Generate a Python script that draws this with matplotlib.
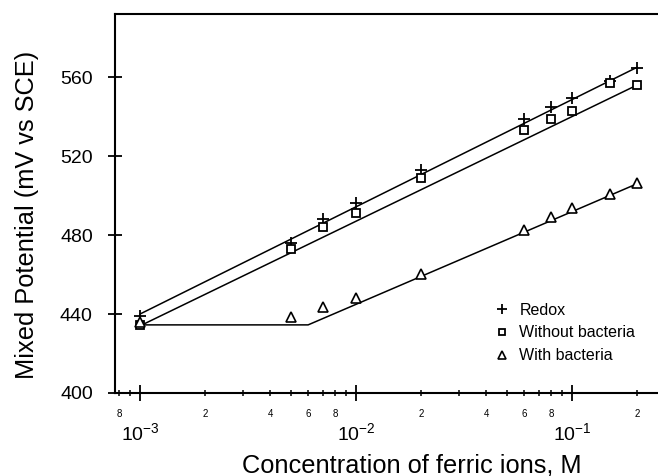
import matplotlib.pyplot as plt
import numpy as np
from matplotlib.ticker import LogLocator, FuncFormatter

plt.rcParams['font.family'] = ['Liberation Sans', 'DejaVu Sans']
plt.rcParams['mathtext.fontset'] = 'custom'
plt.rcParams['mathtext.rm'] = 'Liberation Sans'

# measured points
redox_x = [1e-3, 5e-3, 7e-3, 1e-2, 2e-2, 6e-2, 8e-2, 1e-1, 1.5e-1, 2e-1]
redox_y = [439, 476, 488, 496, 513, 539, 545, 549.5, 558, 564.5]

nobac_x = [1e-3, 5e-3, 7e-3, 1e-2, 2e-2, 6e-2, 8e-2, 1e-1, 1.5e-1, 2e-1]
nobac_y = [434.5, 473, 484, 491, 509, 533, 539, 543, 557, 556]

bac_x = [1e-3, 5e-3, 7e-3, 1e-2, 2e-2, 6e-2, 8e-2, 1e-1, 1.5e-1, 2e-1]
bac_y = [436, 438.5, 443.5, 448, 460.5, 482.5, 489, 493.5, 501, 506.5]

# fitted lines
redox_fit_x = [1e-3, 2e-1]
redox_fit_y = [440, 565]
nobac_fit_x = [1e-3, 2e-1]
nobac_fit_y = [434, 556]
bac_fit_x = [1e-3, 6e-3, 2e-1]
bac_fit_y = [434.5, 434.5, 506]

fig = plt.figure(figsize=(6.58, 4.76), dpi=100)
ax = fig.add_axes([0.1748, 0.1744, 0.8252, 0.7962])

ax.plot(redox_fit_x, redox_fit_y, color='black', lw=1.1)
ax.plot(nobac_fit_x, nobac_fit_y, color='black', lw=1.1)
ax.plot(bac_fit_x, bac_fit_y, color='black', lw=1.1)

ax.plot(redox_x, redox_y, ls='none', marker='+', ms=9, mew=1.3, color='black', label='Redox')
ax.plot(nobac_x, nobac_y, ls='none', marker='s', ms=6, mew=1.3, mfc='white', mec='black', label='Without bacteria')
ax.plot(bac_x, bac_y, ls='none', marker='^', ms=7.5, mew=1.2, mfc='white', mec='black', label='With bacteria')

ax.set_xscale('log')
ax.set_xlim(7.66e-4, 0.25)
ax.set_ylim(400, 592)

ax.set_yticks([400, 440, 480, 520, 560])
ax.tick_params(axis='y', which='major', direction='inout', length=10, width=1.3, pad=11, labelsize=14)

ax.xaxis.set_major_locator(LogLocator(base=10, numticks=10))
ax.xaxis.set_minor_locator(LogLocator(base=10, subs=np.arange(2, 10), numticks=20))


def minor_fmt(v, pos):
    m = v / 10 ** np.floor(np.log10(v) + 1e-9)
    k = int(round(m))
    return str(k) if k in (2, 4, 6, 8) else ''


ax.xaxis.set_minor_formatter(FuncFormatter(minor_fmt))
ax.tick_params(axis='x', which='major', direction='inout', length=11.5, width=1.3, pad=15, labelsize=14)
ax.tick_params(axis='x', which='minor', direction='inout', length=5, width=1.1, pad=9, labelsize=7)

for s in ['left', 'bottom', 'top']:
    ax.spines[s].set_linewidth(1.5)
ax.spines['right'].set_visible(False)

ax.set_xlabel('Concentration of ferric ions, M', fontsize=18.3, labelpad=7)
ax.set_ylabel('Mixed Potential (mV vs SCE)', fontsize=18.3, labelpad=15)
ax.xaxis.label.set_x(0.547)
ax.yaxis.label.set_y(0.471)

ax.legend(loc='upper left', bbox_to_anchor=(0.671, 0.276), frameon=False, fontsize=11.5,
          markerscale=0.75, handlelength=1.0, handletextpad=0.6, labelspacing=0.48)

plt.savefig('out.png', dpi=100)
